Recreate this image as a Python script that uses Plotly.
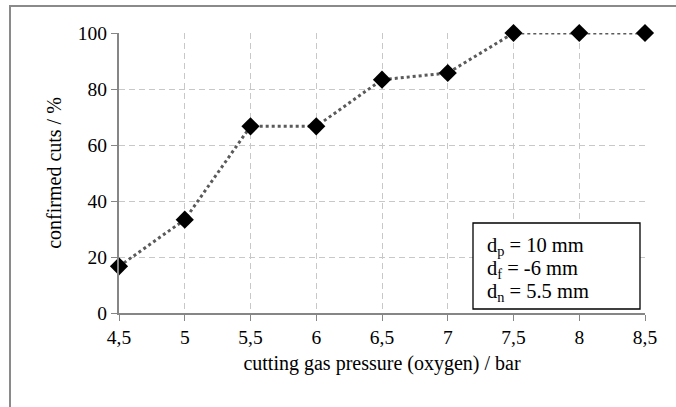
import plotly.graph_objects as go

pressure = [4.5, 5, 5.5, 6, 6.5, 7, 7.5, 8, 8.5]
confirmed = [16.67, 33.33, 66.67, 66.67, 83.33, 85.71, 100, 100, 100]
x_tick_vals = [4.5, 5, 5.5, 6, 6.5, 7, 7.5, 8, 8.5]
x_tick_text = ["4,5", "5", "5,5", "6", "6,5", "7", "7,5", "8", "8,5"]
y_tick_vals = [0, 20, 40, 60, 80, 100]
info_lines = ["d<sub>p</sub> = 10 mm", "d<sub>f</sub> = -6 mm", "d<sub>n</sub> = 5.5 mm"]

FONT = "Liberation Serif, Times New Roman, Times, serif"
L, R, T, B = 119, 31, 33, 94
W, H = 676, 407
pw, ph = W - L - R, H - T - B

def px(x):
    return (x - L) / pw

def py(y):
    return (H - B - y) / ph

fig = go.Figure()
fig.add_trace(go.Scatter(
    x=pressure, y=confirmed, mode="lines+markers",
    line=dict(color="#5a5a5a", width=3, dash="dot"),
    marker=dict(symbol="diamond", size=14, color="black"),
    cliponaxis=False, showlegend=False,
))

shapes = [
    dict(type="rect", xref="paper", yref="paper",
         x0=px(10), x1=px(690), y0=py(420), y1=py(6),
         line=dict(color="#8a8a8a", width=2), layer="below"),
    dict(type="rect", xref="paper", yref="paper",
         x0=px(473), x1=px(640), y0=py(309), y1=py(223),
         line=dict(color="black", width=1.3), fillcolor="white", layer="above"),
]
annotations = []
for i, t in enumerate(info_lines):
    annotations.append(dict(
        xref="paper", yref="paper", x=px(485), y=py(246 + 23 * i),
        text=t, showarrow=False, xanchor="left", yanchor="middle",
        font=dict(family=FONT, size=20.5, color="black"),
    ))

grid_dash = "6px,4px"
fig.update_layout(
    width=W, height=H, margin=dict(l=L, r=R, t=T, b=B),
    paper_bgcolor="white", plot_bgcolor="white",
    shapes=shapes, annotations=annotations,
    font=dict(family=FONT, size=19.5, color="black"),
    xaxis=dict(
        range=[4.5, 8.5], tickvals=x_tick_vals, ticktext=x_tick_text,
        showline=True, linecolor="#868686", linewidth=2,
        showgrid=True, gridcolor="#c8c8c8", griddash=grid_dash, gridwidth=1.3,
        ticks="outside", ticklen=6, tickcolor="#868686", tickwidth=1.3,
        zeroline=False, tickfont=dict(family=FONT, size=19.5),
        title=dict(text="cutting gas pressure (oxygen) / bar", standoff=9,
                   font=dict(family=FONT, size=20)),
    ),
    yaxis=dict(
        range=[0, 100], tickvals=y_tick_vals,
        showline=True, linecolor="#868686", linewidth=2,
        showgrid=True, gridcolor="#c8c8c8", griddash=grid_dash, gridwidth=1.3,
        ticks="outside", ticklen=6, tickcolor="#868686", tickwidth=1.3,
        zeroline=False, tickfont=dict(family=FONT, size=19.5),
        title=dict(text="confirmed cuts / %", standoff=11,
                   font=dict(family=FONT, size=20)),
    ),
)
fig.write_html("out.html", config={"displayModeBar": False},
               post_script="document.body.style.margin='0';")
